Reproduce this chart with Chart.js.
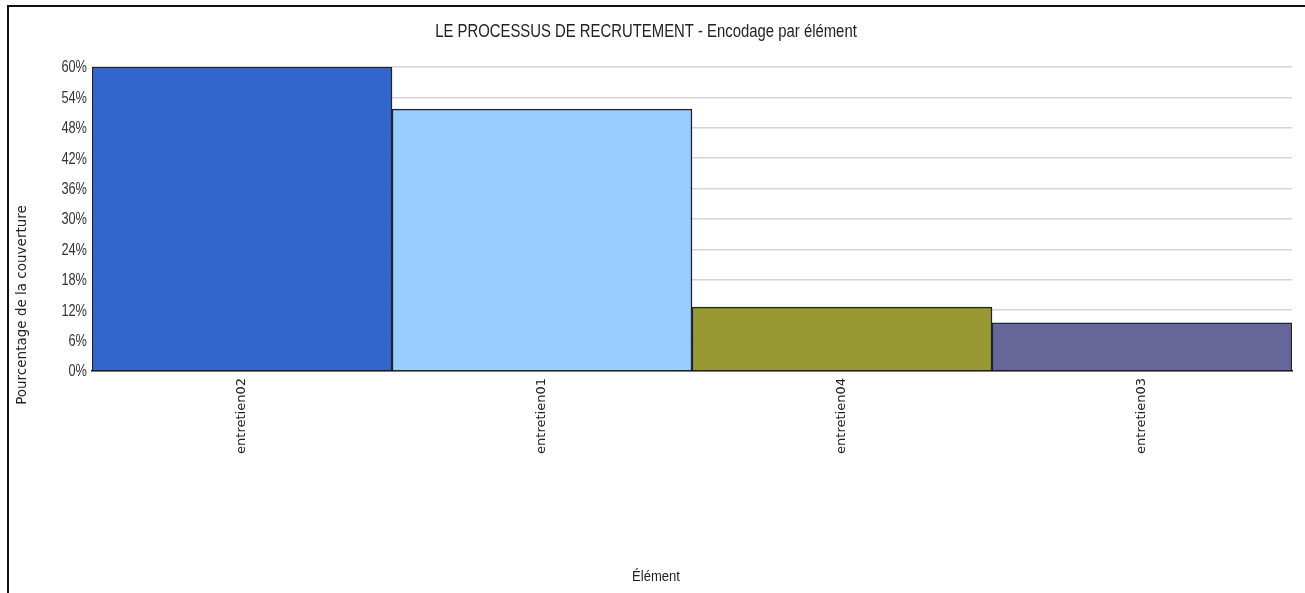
<!DOCTYPE html>
<html>
<head>
<meta charset="utf-8">
<script src="https://cdn.jsdelivr.net/npm/chart.js@4.4.1/dist/chart.umd.min.js"></script>
<style>
    html, body { margin: 0; padding: 0; background: #fff; }
    #wrap { position: relative; width: 1305px; height: 593px; overflow: hidden; }
    #frame {
        position: absolute; left: 7px; top: 5px; width: 1296px; height: 620px;
        border-left: 2px solid #111; border-top: 2px solid #111; border-right: 1px solid #c8c8c8;
        pointer-events: none;
    }
    canvas { position: absolute; left: 0; top: 0; }
</style>
</head>
<body>
<div id="wrap">
    <canvas id="coverageChart" width="1305" height="593"></canvas>
    <div id="frame"></div>
</div>
<script>
// Coverage per element
const elements = ['entretien02', 'entretien01', 'entretien04', 'entretien03'];
const coverage = [60, 51.7, 12.6, 9.5];
const barColors = ['#3366cc', '#99ccff', '#999933', '#666699'];
const yTicks = [0, 6, 12, 18, 24, 30, 36, 42, 48, 54, 60];

const chartTitle = 'LE PROCESSUS DE RECRUTEMENT - Encodage par élément';
const yAxisTitle = 'Pourcentage de la couverture';
const xAxisTitle = 'Élément';

const sans = '"Liberation Sans", Arial, sans-serif';

// no narrow font installed, so squeeze the regular one horizontally
function condensedText(ctx, text, x, y, size, squeeze, align) {
    ctx.save();
    ctx.font = size + 'px ' + sans;
    ctx.textAlign = align;
    ctx.textBaseline = 'middle';
    ctx.translate(x, y);
    ctx.scale(squeeze, 1);
    ctx.fillText(text, 0, 0);
    ctx.restore();
}

const customText = {
    id: 'customText',
    afterDraw(chart) {
        const ctx = chart.ctx;
        const yScale = chart.scales.y;
        ctx.save();
        ctx.fillStyle = '#222';

        condensedText(ctx, chartTitle, 646, 32, 17.5, 0.85, 'center');

        ctx.fillStyle = '#333';
        yTicks.forEach(v => {
            condensedText(ctx, v + '%', 87, yScale.getPixelForValue(v) + 1, 16, 0.8, 'right');
        });

        ctx.fillStyle = '#222';
        condensedText(ctx, xAxisTitle, 656, 577, 15, 0.87, 'center');

        // y title is centred on the whole canvas height
        ctx.font = '13.5px "DejaVu Sans", Verdana, sans-serif';
        ctx.textAlign = 'center';
        ctx.textBaseline = 'middle';
        ctx.translate(22, 305);
        ctx.rotate(-Math.PI / 2);
        ctx.fillText(yAxisTitle, 0, 0);
        ctx.restore();
    }
};

new Chart(document.getElementById('coverageChart'), {
    type: 'bar',
    data: {
        labels: elements,
        datasets: [{
            data: coverage,
            backgroundColor: barColors,
            borderColor: '#1e2436',
            borderWidth: 1.5,
            barPercentage: 1,
            categoryPercentage: 1
        }]
    },
    options: {
        responsive: false,
        animation: false,
        layout: { padding: { left: 0, right: 13, top: 67, bottom: 0 } },
        plugins: {
            legend: { display: false },
            tooltip: { enabled: false },
            title: { display: false }
        },
        scales: {
            x: {
                grid: { display: false, drawTicks: false },
                border: { display: true, color: '#111', width: 1.5 },
                ticks: {
                    color: '#222',
                    font: { family: '"DejaVu Sans", Verdana, sans-serif', size: 13 },
                    minRotation: 90,
                    maxRotation: 90,
                    padding: 7
                },
                afterFit(scale) { scale.height = 222; }
            },
            y: {
                min: 0,
                max: 60,
                afterBuildTicks(scale) { scale.ticks = yTicks.map(v => ({ value: v })); },
                grid: { color: '#d4d4d4', lineWidth: 1.5, drawTicks: false },
                border: { display: false },
                ticks: { display: false },
                afterFit(scale) { scale.width = 92; }
            }
        }
    },
    plugins: [customText]
});
</script>
</body>
</html>
